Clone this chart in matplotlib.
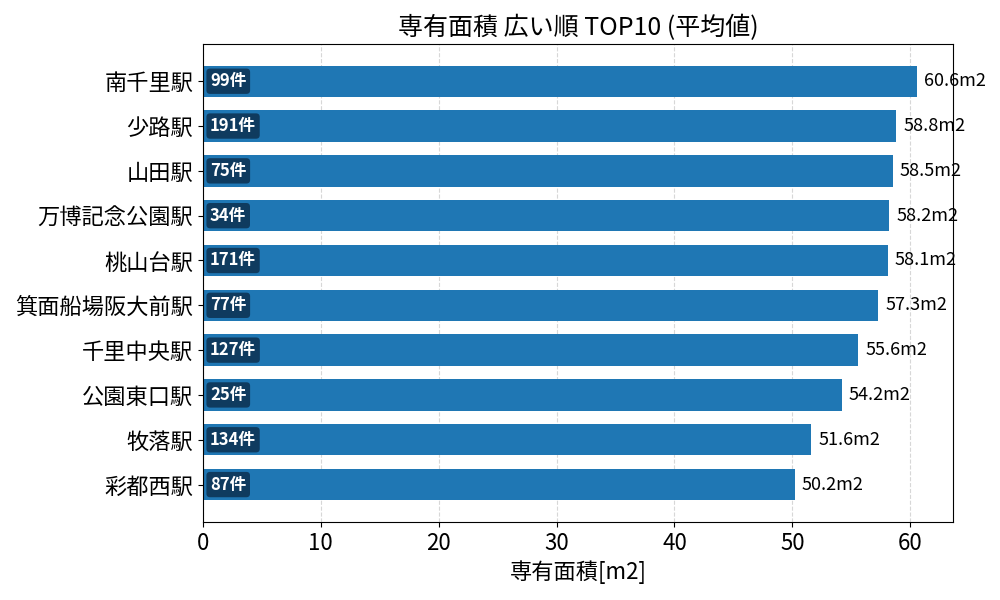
import matplotlib.pyplot as plt
import numpy as np

plt.rcParams['font.family'] = ['Noto Sans CJK JP', 'DejaVu Sans']

stations = ["南千里駅", "少路駅", "山田駅", "万博記念公園駅", "桃山台駅",
            "箕面船場阪大前駅", "千里中央駅", "公園東口駅", "牧落駅", "彩都西駅"]
areas = [60.6, 58.8, 58.5, 58.2, 58.1, 57.3, 55.6, 54.2, 51.6, 50.2]
counts = [99, 191, 75, 34, 171, 77, 127, 25, 134, 87]

fig, ax = plt.subplots(figsize=(10, 6), dpi=100)
fig.subplots_adjust(left=0.203, right=0.953, top=0.927, bottom=0.13)

y = np.arange(len(stations))
bars = ax.barh(y, areas, height=0.7, color="#1f77b4", zorder=2)
ax.set_yticks(y)
ax.set_yticklabels(stations, fontsize=16)
ax.invert_yaxis()
ax.tick_params(axis="x", labelsize=16)

for bar, value, n in zip(bars, areas, counts):
    cy = bar.get_y() + bar.get_height() / 2
    ax.text(value + 0.6, cy, f"{value:.1f}m2", va="center", fontsize=13)
    ax.text(0.6, cy, f"{n}件", va="center", ha="left", fontsize=12,
            fontweight="bold", color="white",
            bbox=dict(boxstyle="round,pad=0.22", fc="#0f3b5f", ec="none"))

ax.set_xlim(0, max(areas) * 1.05)
ax.grid(axis="x", linestyle="--", alpha=0.5, zorder=0)
ax.set_xlabel("専有面積[m2]", fontsize=16)
ax.set_title("専有面積 広い順 TOP10 (平均値)", fontsize=18)

plt.savefig("out.png")
